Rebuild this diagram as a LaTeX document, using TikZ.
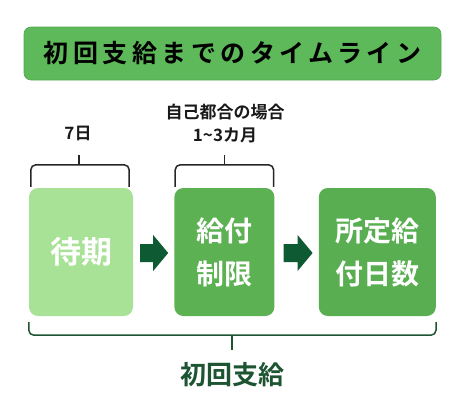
\documentclass[tikz,border=0pt]{standalone}
\usepackage{fontspec}
\setmainfont{Noto Sans CJK JP}
\newfontfamily\jpbold{Noto Sans CJK JP Bold}
\newfontfamily\jptitle[LetterSpace=18]{Noto Sans CJK JP Bold}
\usepackage{tikz}
\usetikzlibrary{positioning,calc}
\usepackage{xcolor}

\definecolor{titlegreen}{HTML}{5DB95A}
\definecolor{waitgreen}{HTML}{A8E296}
\definecolor{limitgreen}{HTML}{5CB153}
\definecolor{daysgreen}{HTML}{58AE51}
\definecolor{arrowgreen}{HTML}{0E5A32}
\definecolor{darkgreen}{HTML}{1D5533}

\begin{document}
\begin{tikzpicture}[x=1pt, y=-1pt,
    titlebar/.style={rectangle, rounded corners=7pt, fill=titlegreen, draw=titlegreen!90!black, line width=0.6pt, minimum width=417pt, minimum height=53pt, inner sep=0pt},
    stage/.style={rectangle, rounded corners=9pt, minimum height=128pt, inner sep=0pt, align=center, text=white},
    flow/.style={fill=arrowgreen},
    label/.style={font=\jpbold\fontsize{17}{19}\selectfont, text=black!90},
    brace/.style={line width=1.5pt, rounded corners=5pt},
]
    \useasboundingbox (0,0) rectangle (461,407);

    \node[titlebar] (title) at (232.5,53.5) {\jptitle\fontsize{25}{28}\selectfont 初回支給までのタイムライン};

    % stages
    \node[stage, fill=waitgreen, minimum width=104pt, font=\jpbold\fontsize{31}{36}\selectfont] (wait) at (81,252) {待期};
    \node[stage, fill=limitgreen, minimum width=100pt, right=41pt of wait, font=\jpbold\fontsize{28}{43}\selectfont] (limit) {給付\\制限};
    \node[stage, fill=daysgreen, minimum width=117pt, right=44pt of limit, font=\jpbold\fontsize{28}{43}\selectfont] (days) {所定給\\付日数};

    % block arrows
    \fill[flow] ([xshift=7pt, yshift=-1pt]wait.east) ++(0,-9) -- ++(13,0) -- ++(0,-9) -- ++(15,18) -- ++(-15,18) -- ++(0,-9) -- ++(-13,0) -- cycle;
    \fill[flow] ([xshift=9pt, yshift=-1pt]limit.east) ++(0,-9) -- ++(14,0) -- ++(0,-9) -- ++(15,18) -- ++(-15,18) -- ++(0,-9) -- ++(-14,0) -- cycle;

    % top braces
    \draw[brace, black!85] ([xshift=2pt, yshift=1pt]wait.north west) -- ++(0,-22) -| ([xshift=-4pt, yshift=1pt]wait.north east);
    \draw[brace, black!85] ([xshift=-2pt]wait.north |- 0,165) -- ++(0,-10) coordinate (waittip);
    \draw[brace, black!85] ([xshift=1pt, yshift=1pt]limit.north west) -- ++(0,-22) -| ([xshift=-1pt, yshift=1pt]limit.north east);
    \draw[brace, black!85] (limit.north |- 0,165) -- ++(0,-10) coordinate (limittip);

    \node[label] (seven) at (78,133) {7日};
    \node[label] (self) at (225,112) {自己都合の場合};
    \node[label] (months) at (225,135) {1\char`\~3カ月};

    % bottom brace
    \draw[brace, darkgreen] ([yshift=-6pt]wait.south west) -- ++(0,13) -| ([yshift=-6pt]days.south east);
    \draw[brace, darkgreen] (232,335) -- (232,350) coordinate (alltip);
    \node[font=\jpbold\fontsize{26}{30}\selectfont, text=darkgreen] (first) at (232,375) {初回支給};
\end{tikzpicture}
\end{document}
